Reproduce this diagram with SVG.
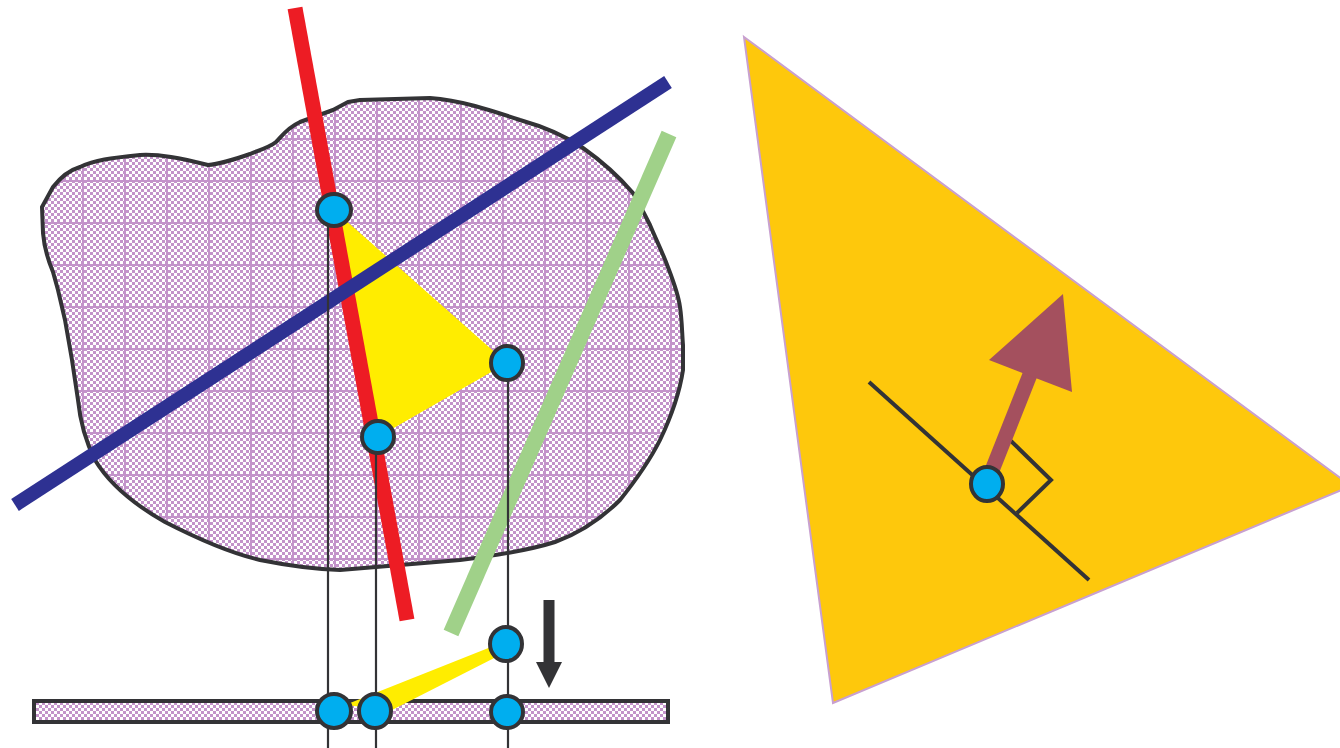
<svg xmlns="http://www.w3.org/2000/svg" width="1340" height="748" viewBox="0 0 1340 748">
<style>
.pt{fill:#00aeef;stroke:#333336;stroke-width:4}
.vl{stroke:#333336;stroke-width:2.2;fill:none}
</style>
<defs>
<pattern id="chk" width="6" height="6" patternUnits="userSpaceOnUse">
<rect width="6" height="6" fill="#fff" shape-rendering="crispEdges"/>
<rect width="3" height="3" fill="#c393ca" shape-rendering="crispEdges"/>
<rect x="3" y="3" width="3" height="3" fill="#c393ca" shape-rendering="crispEdges"/>
</pattern>
<pattern id="grid" x="40" y="12" width="42" height="42" patternUnits="userSpaceOnUse">
<rect width="42" height="2" fill="#c393ca" shape-rendering="crispEdges"/>
<rect width="2" height="42" fill="#c393ca" shape-rendering="crispEdges"/>
</pattern>
<path id="blobShape" d="M42,207 L53,187 C60,178 70,170 80,167 C95,160 110,158 140,155 C160,154 180,158 208,165 C220,164 233,160 250,154 C260,150 270,147 276,142 C283,135 287,128 300,122 L333,110 L348,102 L360,100 L430,98 C460,100 490,110 520,120 C545,127 567,137 583,148 C600,160 620,178 633,193 C640,205 645,215 650,225 C655,237 660,247 666,262 C672,278 678,292 680,307 C682,320 682,333 683,345 L683,370 C680,390 672,415 660,440 C650,460 640,475 620,500 C600,520 580,533 555,542 C530,550 500,555 460,560 L400,565 L340,570 C310,569 290,566 260,560 C230,553 200,540 165,522 C135,505 110,485 95,460 C85,440 80,420 78,400 L72,360 L65,320 L58,290 L53,272 C48,260 44,245 43,233 Z"/>
</defs>
<g id="blob">
<use href="#blobShape" fill="url(#chk)"/>
<use href="#blobShape" fill="url(#grid)"/>
<use href="#blobShape" fill="none" stroke="#333336" stroke-width="4" stroke-linejoin="round"/>
</g>
<g id="bar">
<rect x="34" y="701" width="634" height="21" fill="url(#chk)" stroke="#333336" stroke-width="4"/>
</g>
<g id="yellow-triangle">
<polygon points="334,210 507,363 378,437" fill="#ffed00"/>
</g>
<g id="projected-triangle">
<polygon points="506,641 508,651 392,710 345,705" fill="#ffed00"/>
</g>
<g id="lines">
<line x1="295" y1="8" x2="407" y2="620" stroke="#ed1c24" stroke-width="15"/>
<line x1="15" y1="505" x2="668" y2="82" stroke="#2e3192" stroke-width="14"/>
<line x1="669" y1="134" x2="451" y2="633" stroke="#a0d189" stroke-width="16"/>
</g>
<g id="connectors">
<line class="vl" x1="328" y1="220" x2="328" y2="748"/>
<line class="vl" x1="376" y1="445" x2="376" y2="748"/>
<line class="vl" x1="508" y1="370" x2="508" y2="748"/>
</g>
<g id="down-arrow">
<rect x="543.5" y="600" width="11" height="64" fill="#333336"/>
<polygon points="536,662 562,662 549,688" fill="#333336"/>
</g>
<g id="points">
<ellipse class="pt" cx="334" cy="210" rx="17" ry="16"/>
<ellipse class="pt" cx="507" cy="363" rx="16" ry="17"/>
<ellipse class="pt" cx="378" cy="437" rx="16" ry="16"/>
<ellipse class="pt" cx="506" cy="644" rx="16" ry="17"/>
<ellipse class="pt" cx="334" cy="711" rx="17" ry="17"/>
<ellipse class="pt" cx="375" cy="711" rx="16" ry="17"/>
<ellipse class="pt" cx="507" cy="712" rx="16" ry="16"/>
</g>
<g id="big-triangle">
<polygon points="744,37 1351,486 833,703" fill="#fec80c" stroke="#c8a0d0" stroke-width="2"/>
</g>
<g id="tangent">
<line x1="869" y1="382" x2="1089" y2="580" stroke="#333336" stroke-width="4"/>
<polyline points="1011,441 1051,480 1017,513" fill="none" stroke="#333336" stroke-width="4"/>
</g>
<g id="normal-arrow">
<line x1="989" y1="478" x2="1031" y2="372" stroke="#a4505e" stroke-width="15"/>
<polygon points="1063,294 1072,392 989,360" fill="#a4505e"/>
</g>
<g id="tangent-point">
<ellipse class="pt" cx="987" cy="484" rx="16" ry="17"/>
</g>
</svg>
